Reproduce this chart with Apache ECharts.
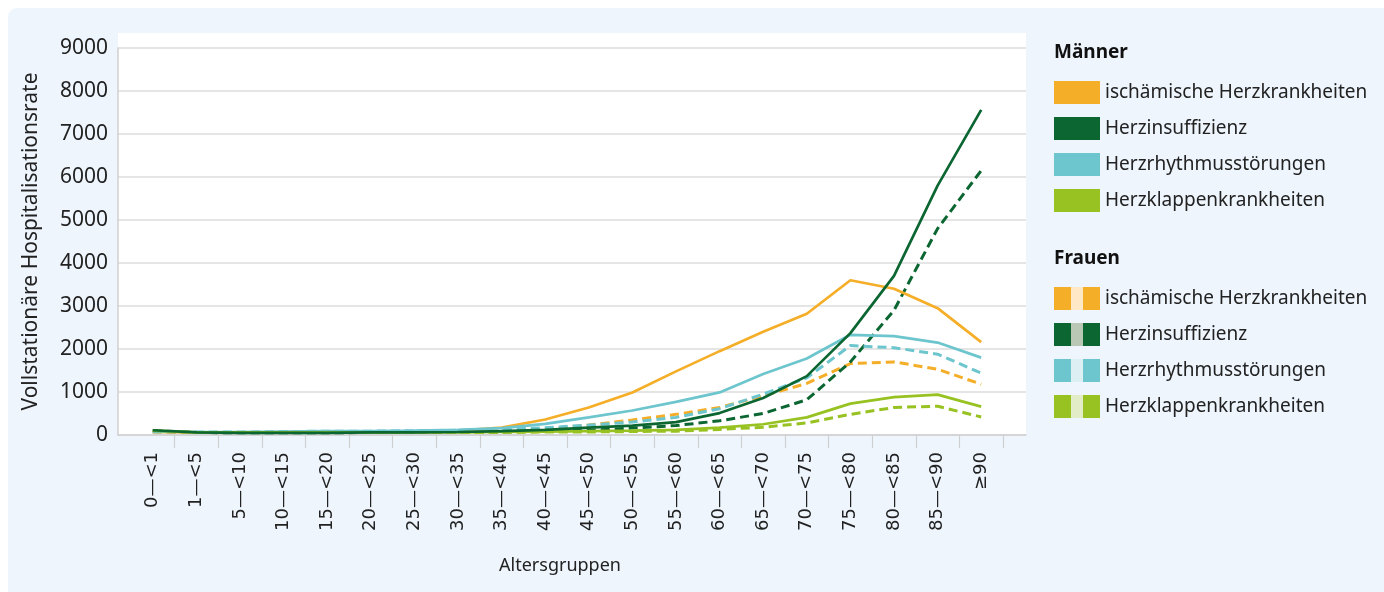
<!DOCTYPE html>
<html><head><meta charset="utf-8">
<script src="https://cdn.jsdelivr.net/npm/echarts@6/dist/echarts.min.js"></script>
<style>
html,body{margin:0;padding:0;background:#fff;}
#panel{position:absolute;left:8px;top:8px;width:1376px;height:584px;background:#EEF5FD;border-radius:9px 0 0 0;}
#chart{position:absolute;left:0;top:0;width:1384px;height:592px;}
</style></head>
<body><div id="panel"></div><div id="chart"></div>
<script>
const categories = ['0—<1','1—<5','5—<10','10—<15','15—<20','20—<25','25—<30','30—<35','35—<40','40—<45','45—<50','50—<55','55—<60','60—<65','65—<70','70—<75','75—<80','80—<85','85—<90','≥90'];
const yTicks = [0,1000,2000,3000,4000,5000,6000,7000,8000,9000];
const diseaseNames = ['ischämische Herzkrankheiten','Herzinsuffizienz','Herzrhythmusstörungen','Herzklappenkrankheiten'];
const colors = ['#F5AE28','#0B6632','#6DC5CD','#97C222'];
const lightColors = ['#FFE8C6','#B8C8B5','#DCEFF2','#E2EDC8'];

const menIschemic   = [70,60,60,60,70,70,80,100,170,360,640,990,1480,1950,2400,2820,3600,3400,2950,2160];
const menHeartFail  = [110,60,50,50,50,60,60,70,90,120,170,220,300,510,860,1370,2370,3700,5800,7560];
const menRhythm     = [80,70,70,80,90,90,100,120,160,260,410,570,770,990,1420,1780,2330,2300,2150,1800];
const menValve      = [100,60,60,60,60,60,60,60,70,80,90,100,120,170,250,410,730,880,940,660];
const womenIschemic = [70,60,60,60,60,70,70,80,90,130,230,350,480,640,910,1200,1660,1700,1530,1180];
const womenHeartFail= [100,60,50,50,50,60,60,60,70,90,110,160,220,330,500,820,1700,2900,4800,6150];
const womenRhythm   = [70,70,70,80,90,90,100,110,130,170,230,300,410,610,950,1330,2080,2030,1880,1440];
const womenValve    = [90,60,60,60,60,60,60,60,60,70,70,80,90,130,180,280,480,640,670,420];

const menData = [menIschemic, menHeartFail, menRhythm, menValve];
const womenData = [womenIschemic, womenHeartFail, womenRhythm, womenValve];

function stripeIcon(c, l) {
  const svg = '<svg xmlns="http://www.w3.org/2000/svg" width="46" height="23"><rect x="0" y="0" width="17" height="23" fill="' + c + '"/><rect x="17" y="0" width="12" height="23" fill="' + l + '"/><rect x="29" y="0" width="17" height="23" fill="' + c + '"/></svg>';
  return 'image://data:image/svg+xml;charset=utf-8,' + encodeURIComponent(svg);
}

const FONT = 'Noto Sans';
const series = [];
diseaseNames.forEach((n, i) => {
  series.push({
    name: 'M:' + n, type: 'line', xAxisIndex: 1, yAxisIndex: 1,
    data: menData[i], showSymbol: false, symbol: 'none', color: colors[i],
    lineStyle: {color: colors[i], width: 2.7}, z: 3 + (i === 1 ? 2 : 0)
  });
});
diseaseNames.forEach((n, i) => {
  series.push({
    name: 'F:' + n, type: 'line', xAxisIndex: 1, yAxisIndex: 1,
    data: womenData[i], showSymbol: false, symbol: 'none', color: colors[i],
    lineStyle: {color: colors[i], width: 3, type: [9, 5]}, z: 2
  });
});

const chart = echarts.init(document.getElementById('chart'), null, {renderer: 'canvas'});
const legendCommon = {
  orient: 'vertical', left: 1049, itemWidth: 46, itemHeight: 23, itemGap: 13,
  selectedMode: false, formatter: name => name.slice(2),
  textStyle: {fontFamily: FONT, fontSize: 19, color: '#222'},
  itemStyle: {borderWidth: 0}, lineStyle: {width: 0}
};
chart.setOption({
  backgroundColor: 'transparent',
  animation: false,
  graphic: [{type: 'rect', z: -10, silent: true, shape: {x: 118, y: 33, width: 908, height: 402}, style: {fill: '#ffffff'}}],
  title: [
    {text: 'Männer', left: 1049, top: 38, textStyle: {fontFamily: FONT, fontSize: 19, fontWeight: 'bold', color: '#111'}},
    {text: 'Frauen', left: 1049, top: 244, textStyle: {fontFamily: FONT, fontSize: 19, fontWeight: 'bold', color: '#111'}}
  ],
  legend: [
    Object.assign({}, legendCommon, {top: 76, data: diseaseNames.map((n, i) => ({name: 'M:' + n, icon: 'rect'}))}),
    Object.assign({}, legendCommon, {top: 282, data: diseaseNames.map((n, i) => ({name: 'F:' + n, icon: stripeIcon(colors[i], lightColors[i])}))})
  ],
  grid: [
    {left: 118, right: 358, top: 48, bottom: 157},
    {left: 131, right: 381, top: 48, bottom: 157}
  ],
  xAxis: [
    {type: 'category', gridIndex: 0, data: categories, axisLabel: {show: false}, axisTick: {show: false},
     axisLine: {show: true, lineStyle: {color: '#cfcfcf', width: 1.5}},
     name: 'Altersgruppen', nameLocation: 'middle', nameGap: 122,
     nameTextStyle: {fontFamily: FONT, fontSize: 18, color: '#222', padding: [0, 24, 0, 0]}},
    {type: 'category', gridIndex: 1, data: categories, boundaryGap: true,
     axisLine: {show: false},
     axisTick: {show: true, length: 13, lineStyle: {color: '#cfcfcf', width: 1.2}, interval: (i) => i !== 0},
     axisLabel: {rotate: 90, margin: 17, fontFamily: 'DejaVu Sans', fontSize: 18, color: '#222', interval: 0}}
  ],
  yAxis: [
    {type: 'value', gridIndex: 0, min: 0, max: 9000, interval: 1000,
     axisLine: {show: true, lineStyle: {color: '#cfcfcf', width: 1.5}}, axisTick: {show: false},
     splitLine: {show: true, lineStyle: {color: '#dcdcdc', width: 1.5}},
     axisLabel: {margin: 10, fontFamily: FONT, fontSize: 21, color: '#222', formatter: v => String(v)},
     name: 'Vollstationäre Hospitalisationsrate', nameLocation: 'middle', nameGap: 76, nameRotate: 90,
     nameTextStyle: {fontFamily: FONT, fontSize: 21, color: '#222'}},
    {type: 'value', gridIndex: 1, min: 0, max: 9000, interval: 1000, show: false}
  ],
  series: series
});
</script>
</body></html>
